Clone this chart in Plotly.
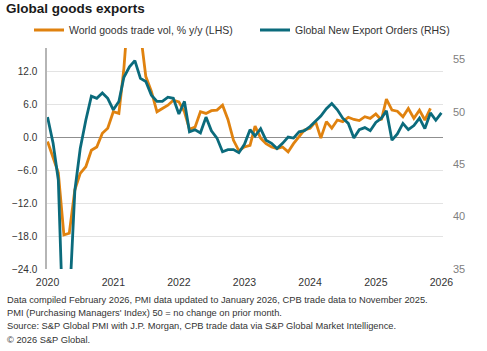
import pandas as pd
import plotly.graph_objects as go

# ---- data ----
trade_yoy = [
    -0.8, -3.9, -6.5, -17.8, -17.5, -9.6, -6.6, -5.4, -2.4, -1.8, 0.7, 1.6,   # 2020
    4.6, 4.3, 12.5, 26.0, 25.0, 19.0, 11.0, 8.3, 4.6, 5.2, 5.8, 6.7,          # 2021
    6.4, 4.6, 1.4, 1.8, 4.6, 4.3, 4.8, 4.9, 5.8, 3.2, -0.6, -2.5,             # 2022
    -1.8, -1.5, 2.0, -0.2, -1.2, -1.8, -2.1, -1.8, -2.7, -1.2, 0.0, 1.3,      # 2023
    1.6, 2.8, -0.2, 2.8, 1.6, 3.1, 2.8, 3.6, 3.2, 3.0, 3.7, 3.4,              # 2024
    4.2, 3.1, 6.9, 4.9, 4.7, 3.7, 5.2, 3.4, 4.9, 3.1, 5.2,                    # 2025 (to Nov)
]
export_orders = [
    49.5, 47.0, 43.5, 27.0, 31.5, 42.5, 46.5, 49.2, 51.5, 51.3, 51.8, 51.3,   # 2020
    50.2, 51.0, 53.3, 54.3, 54.9, 53.2, 52.9, 51.6, 51.0, 51.0, 51.4, 51.3,   # 2021
    49.8, 51.0, 48.1, 48.3, 48.0, 49.5, 48.2, 47.5, 46.2, 46.4, 46.4, 46.1,   # 2022
    46.9, 48.3, 47.7, 48.4, 47.3, 47.0, 46.5, 47.0, 47.6, 47.5, 48.1, 48.2,   # 2023
    48.6, 49.1, 49.6, 50.3, 50.8, 50.2, 49.4, 48.9, 47.5, 48.3, 48.5, 48.2,   # 2024
    49.0, 49.4, 50.1, 47.3, 47.9, 48.9, 48.3, 48.7, 49.4, 48.4, 49.9, 49.2,   # 2025
    49.9,                                                                    # 2026
]
trade_dates = pd.date_range("2020-01-01", periods=len(trade_yoy), freq="MS")
pmi_dates = pd.date_range("2020-01-01", periods=len(export_orders), freq="MS")

left_ticks = [-24, -18, -12, -6, 0, 6, 12]
right_ticks = [35, 40, 45, 50, 55]
series_names = ["World goods trade vol, % y/y (LHS)", "Global New Export Orders (RHS)"]
title_text = "Global goods exports"
footer_lines = [
    "Data compiled February 2026, PMI data updated to January 2026, CPB trade data to November 2025.",
    "PMI (Purchasing Managers' Index) 50 = no change on prior month.",
    "Source: S&P Global PMI with J.P. Morgan, CPB trade data via S&P Global Market Intelligence.",
    "\u00a9 2026 S&P Global.",
]

# ---- layout geometry (pixels) ----
W, H = 487, 351
L, R, T, B = 47, 443, 48, 269
FONT = "Liberation Sans, Arial, sans-serif"
ORANGE = "#E0820F"
TEAL = "#0B6B7C"


def px_x(px):
    return (px - L) / (R - L)


def px_y(py):
    return (B - py) / (B - T)


fig = go.Figure()
fig.add_trace(go.Scatter(x=trade_dates, y=trade_yoy, name=series_names[0],
                         mode="lines", line=dict(color=ORANGE, width=2.8), yaxis="y",
                         legend="legend"))
fig.add_trace(go.Scatter(x=pmi_dates, y=export_orders, name=series_names[1],
                         mode="lines", line=dict(color=TEAL, width=2.8), yaxis="y2",
                         legend="legend2"))

annotations = []
for i, line in enumerate(footer_lines):
    annotations.append(dict(text=line, xref="paper", yref="paper",
                            x=px_x(5), y=px_y(300 + i * 13.2), xanchor="left", yanchor="middle",
                            showarrow=False, font=dict(family=FONT, size=9.3, color="#333333")))

legend_common = dict(orientation="h", yanchor="middle", xanchor="left",
                     font=dict(family=FONT, size=10.5, color="#333333"),
                     bgcolor="rgba(0,0,0,0)", itemwidth=30)

fig.update_layout(
    width=W, height=H,
    margin=dict(l=L, r=W - R, t=T, b=H - B, pad=0, autoexpand=False),
    paper_bgcolor="white", plot_bgcolor="white",
    font=dict(family=FONT, size=10.5, color="#333333"),
    title=dict(text="<b>" + title_text + "</b>", xref="container", yref="container",
               x=6 / W, y=1 - 8 / H, xanchor="left", yanchor="middle",
               font=dict(family=FONT, size=13.5, color="#1a1a1a")),
    showlegend=True,
    legend=dict(x=px_x(29), y=px_y(30), **legend_common),
    legend2=dict(x=px_x(255), y=px_y(30), **legend_common),
    xaxis=dict(type="date", range=["2019-12-29", "2026-01-10"],
               tick0="2020-01-01", dtick="M12", tickformat="%Y",
               showgrid=False, zeroline=False, showline=False, ticks="",
               ticklabelstandoff=5,
               tickfont=dict(family=FONT, size=10.5, color="#333333")),
    yaxis=dict(range=[-24, 16.2], tickvals=left_ticks, tickformat=".1f",
               showgrid=True, gridcolor="#e3e3e3", gridwidth=1,
               zeroline=True, zerolinecolor="#8f8f8f", zerolinewidth=1,
               showline=True, linecolor="#b5b5b5", linewidth=1.5,
               ticks="", ticklabelstandoff=6,
               tickfont=dict(family=FONT, size=10, color="#333333")),
    yaxis2=dict(range=[35, 56.1], tickvals=right_ticks, overlaying="y", side="right",
                showgrid=False, zeroline=False, showline=False, ticks="",
                ticklabelstandoff=9,
                tickfont=dict(family=FONT, size=11, color="#808080")),
    annotations=annotations,
)

fig.write_html("out.html")
